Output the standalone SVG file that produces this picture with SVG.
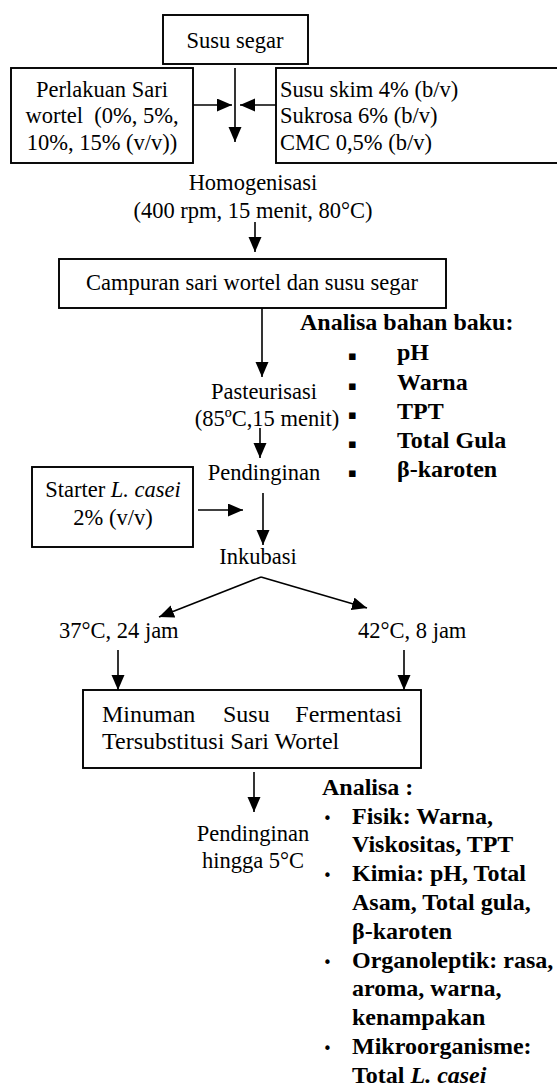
<svg xmlns="http://www.w3.org/2000/svg" width="557" height="1090" viewBox="0 0 557 1090">
<style>
.box{fill:#fff;stroke:#000;stroke-width:1.9}
.t{font-family:"Liberation Serif","Times New Roman",serif;font-size:22.5px;fill:#000}
.tb{font-family:"Liberation Serif","Times New Roman",serif;font-size:24px;font-weight:bold;fill:#000}
.c{text-anchor:middle}
.big{font-size:24px}
.sq{font-family:"DejaVu Sans",sans-serif;font-size:13px;fill:#000}
.dot{font-family:"DejaVu Sans",sans-serif;font-size:15px;fill:#000}
.ln{stroke:#000;stroke-width:1.6;fill:none;marker-end:url(#ah)}
</style>
<defs>
<marker id="ah" markerUnits="userSpaceOnUse" markerWidth="16" markerHeight="14" refX="15" refY="6.5" orient="auto">
<path d="M0,0 L15,6.5 L0,13 z" fill="#000"/>
</marker>
</defs>
<rect width="557" height="1090" fill="#fff"/>
<g id="connectors">
<line class="ln" x1="235" y1="68" x2="235" y2="142"/>
<line class="ln" x1="193" y1="105" x2="232" y2="105"/>
<line class="ln" x1="276" y1="105" x2="240" y2="105"/>
<line class="ln" x1="255" y1="222" x2="255" y2="252"/>
<line class="ln" x1="262" y1="308" x2="262" y2="377"/>
<line class="ln" x1="260" y1="428" x2="260" y2="458"/>
<line class="ln" x1="198" y1="510" x2="243" y2="510"/>
<line class="ln" x1="263" y1="493" x2="263" y2="545"/>
<line class="ln" x1="261" y1="577" x2="159" y2="617"/>
<line class="ln" x1="261" y1="577" x2="367" y2="608"/>
<line class="ln" x1="118" y1="650" x2="118" y2="690"/>
<line class="ln" x1="404" y1="650" x2="404" y2="690"/>
<line class="ln" x1="254" y1="772" x2="254" y2="812"/>
</g>
<g id="susu-segar">
<rect class="box" x="163" y="15" width="145" height="49"/>
<text class="t c" x="235" y="48">Susu segar</text>
</g>
<g id="perlakuan">
<rect class="box" x="11" y="68" width="182" height="95"/>
<text class="t c" x="102" y="97">Perlakuan Sari</text>
<text class="t c" x="102" y="123" xml:space="preserve">wortel  (0%, 5%,</text>
<text class="t c" x="102" y="150">10%, 15% (v/v))</text>
</g>
<g id="bahan">
<rect class="box" x="276" y="68" width="290" height="95"/>
<text class="t" x="280" y="97">Susu skim 4% (b/v)</text>
<text class="t" x="280" y="123">Sukrosa 6% (b/v)</text>
<text class="t" x="280" y="150">CMC 0,5% (b/v)</text>
</g>
<g id="homogenisasi">
<text class="t c" x="253" y="190">Homogenisasi</text>
<text class="t c" x="253" y="218">(400 rpm, 15 menit, 80°C)</text>
</g>
<g id="campuran">
<rect class="box" x="59" y="259" width="387" height="49"/>
<text class="t c" x="252" y="290">Campuran sari wortel dan susu segar</text>
</g>
<g id="analisa-bahan-baku">
<text class="tb" x="300" y="330">Analisa bahan baku:</text>
<text class="sq" x="348" y="360">▪</text><text class="tb" x="397" y="360">pH</text>
<text class="sq" x="348" y="390">▪</text><text class="tb" x="397" y="390">Warna</text>
<text class="sq" x="348" y="419">▪</text><text class="tb" x="397" y="419">TPT</text>
<text class="sq" x="348" y="448">▪</text><text class="tb" x="397" y="448">Total Gula</text>
<text class="sq" x="348" y="477">▪</text><text class="tb" x="397" y="477">β-karoten</text>
</g>
<g id="pasteurisasi">
<text class="t c" x="264" y="399">Pasteurisasi</text>
<text class="t c" x="267" y="426">(85ºC,15 menit)</text>
</g>
<g id="pendinginan-1">
<text class="t c" x="264" y="480">Pendinginan</text>
</g>
<g id="starter">
<rect class="box" x="32" y="467" width="161" height="80"/>
<text class="t c" x="113" y="497">Starter <tspan font-style="italic">L. casei</tspan></text>
<text class="t c" x="113" y="525">2% (v/v)</text>
</g>
<g id="inkubasi">
<text class="t c" x="258" y="564">Inkubasi</text>
</g>
<g id="suhu-37">
<text class="t" x="59" y="638">37°C, 24 jam</text>
</g>
<g id="suhu-42">
<text class="t" x="358" y="638">42°C, 8 jam</text>
</g>
<g id="minuman">
<rect class="box" x="83" y="690" width="338" height="78"/>
<text class="t big" x="102" y="722">Minuman</text>
<text class="t big" x="223" y="722">Susu</text>
<text class="t big" x="402" y="722" text-anchor="end">Fermentasi</text>
<text class="t big" x="102" y="749">Tersubstitusi Sari Wortel</text>
</g>
<g id="pendinginan-2">
<text class="t c" x="253" y="841">Pendinginan</text>
<text class="t c" x="253" y="868">hingga 5°C</text>
</g>
<g id="analisa">
<text class="tb" x="322" y="795">Analisa :</text>
<text class="dot" x="323" y="824">•</text><text class="tb" x="352" y="824">Fisik: Warna,</text>
<text class="tb" x="352" y="852">Viskositas, TPT</text>
<text class="dot" x="323" y="881">•</text><text class="tb" x="352" y="881">Kimia: pH, Total</text>
<text class="tb" x="352" y="910">Asam, Total gula,</text>
<text class="tb" x="352" y="939">β-karoten</text>
<text class="dot" x="323" y="968">•</text><text class="tb" x="352" y="968">Organoleptik: rasa,</text>
<text class="tb" x="352" y="996">aroma, warna,</text>
<text class="tb" x="352" y="1025">kenampakan</text>
<text class="dot" x="323" y="1054">•</text><text class="tb" x="352" y="1054">Mikroorganisme:</text>
<text class="tb" x="352" y="1083">Total <tspan font-style="italic">L. casei</tspan></text>
</g>
</svg>
